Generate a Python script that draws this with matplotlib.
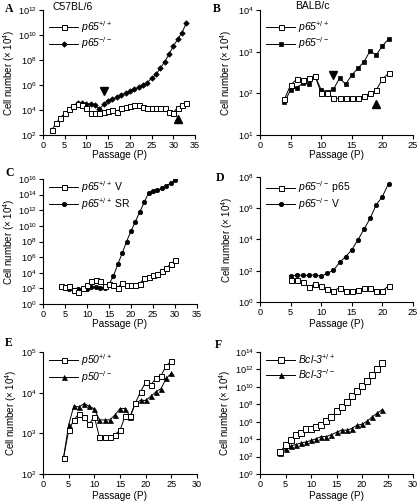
import numpy as np
import matplotlib
matplotlib.use('Agg')
import matplotlib.pyplot as plt
from matplotlib.ticker import FixedLocator, LogFormatterSciNotation, NullLocator

plt.rcParams['font.family'] = ['Liberation Sans', 'DejaVu Sans']
plt.rcParams['mathtext.fontset'] = 'custom'
plt.rcParams['mathtext.rm'] = 'Liberation Sans'
plt.rcParams['mathtext.it'] = 'Liberation Sans:italic'
plt.rcParams['font.size'] = 7

# values as log10(cell number)
# A  C57BL/6
a_x_wt = list(range(2, 34))
a_wt = [2.4, 2.93, 3.39, 3.73, 4.05, 4.32, 4.5, 4.4, 4.13, 3.8, 3.73, 3.73, 3.87, 3.92, 4.0, 3.87,
        4.13, 4.27, 4.35, 4.4, 4.4, 4.27, 4.2, 4.2, 4.2, 4.13, 4.13, 3.87, 3.8, 4.2, 4.4, 4.53]
a_x_ko = list(range(8, 34))
a_ko = [4.6, 4.56, 4.5, 4.45, 4.4, 4.08, 4.45, 4.72, 4.88, 5.04, 5.2, 5.33, 5.52, 5.68, 5.81,
        6.0, 6.2, 6.53, 6.85, 7.33, 7.85, 8.45, 9.1, 9.65, 10.2, 10.95]
a_arrow_x = [14, 31]
a_arrow_y = [5.5, 3.3]

# B  BALB/c
b_x = list(range(4, 22))
b_wt = [1.86, 2.2, 2.34, 2.32, 2.38, 2.42, 2.0, 2.02, 1.88, 1.88, 1.88, 1.88, 1.88, 1.94, 2.0,
        2.08, 2.34, 2.48]
b_ko = [1.79, 2.08, 2.14, 2.24, 2.22, 2.42, 2.08, 2.04, 2.1, 2.36, 2.22, 2.44, 2.6, 2.76, 3.02,
        2.92, 3.14, 3.3]
b_arrow_x = [12, 19]
b_arrow_y = [2.45, 1.75]

# C  p65+/+ V vs SR
c_x = list(range(4, 31))
c_v = [2.3, 2.2, 2.25, 1.8, 1.6, 2.0, 2.4, 2.9, 3.1, 2.9, 2.3, 2.5, 2.4, 2.1, 2.7, 2.4, 2.4,
       2.4, 2.6, 3.3, 3.5, 3.7, 3.9, 4.2, 4.6, 5.1, 5.6]
c_sr = [2.3, 2.1, 1.9, 1.85, 1.9, 1.9, 1.95, 2.15, 2.2, 2.1, 2.1, 2.5, 3.58, 5.08, 6.5, 8.0,
        9.35, 10.55, 11.8, 13.0, 14.26, 14.48, 14.6, 14.8, 15.1, 15.46, 15.85]

# D  p65-/- p65 vs V
d_x = list(range(5, 22))
d_p65 = [1.39, 1.39, 1.28, 0.96, 1.17, 1.03, 0.81, 0.71, 0.92, 0.71, 0.71, 0.79, 0.92, 0.92,
         0.71, 0.71, 1.03]
d_v = [1.64, 1.74, 1.7, 1.7, 1.74, 1.64, 1.85, 2.02, 2.53, 2.91, 3.34, 3.98, 4.66, 5.36, 6.23,
       6.75, 7.57]

# E  p50
e_x = list(range(4, 26))
e_wt = [2.4, 3.07, 3.33, 3.48, 3.41, 3.23, 3.41, 2.9, 2.9, 2.9, 2.97, 3.07, 3.43, 3.43, 3.75,
        4.02, 4.26, 4.19, 4.35, 4.42, 4.66, 4.77]
e_ko = [2.4, 3.21, 3.67, 3.65, 3.73, 3.67, 3.6, 3.33, 3.33, 3.33, 3.45, 3.61, 3.61, 3.4, 3.75,
        3.81, 3.81, 3.91, 4.02, 4.1, 4.35, 4.48]

# F  Bcl-3
f_x = list(range(4, 25))
f_wt = [2.56, 3.3, 3.93, 4.48, 4.7, 5.15, 5.22, 5.4, 5.6, 6.07, 6.55, 7.19, 7.67, 8.22, 8.93,
        9.52, 10.07, 10.63, 11.33, 12.0, 12.7]
f_ko = [2.37, 2.85, 3.22, 3.37, 3.56, 3.67, 3.85, 4.04, 4.3, 4.3, 4.52, 4.78, 5.04, 5.04, 5.22,
        5.6, 5.7, 6.07, 6.55, 7.0, 7.4]

W, H = 420, 503
fig = plt.figure(figsize=(W / 100, H / 100), dpi=100)


def box(l, t, r, b):
    return [l / W, 1 - b / H, (r - l) / W, (b - t) / H]


def setup(ax, pos, xmax, ylo, yhi, ystep, ylab_x, xlab_y):
    l, t, r, b = pos
    ax.set_yscale('log')
    ax.set_xlim(0, xmax)
    ax.set_ylim(10.0 ** ylo, 10.0 ** yhi)
    ax.set_xticks(range(0, xmax + 1, 5))
    ax.yaxis.set_major_locator(FixedLocator([10.0 ** e for e in range(ylo, yhi + 1, ystep)]))
    ax.yaxis.set_major_formatter(LogFormatterSciNotation())
    ax.yaxis.set_minor_locator(NullLocator())
    for s in ['top', 'right']:
        ax.spines[s].set_visible(False)
    for s in ['left', 'bottom']:
        ax.spines[s].set_linewidth(0.8)
    ax.tick_params(direction='out', length=3, width=0.8, labelsize=6.6, pad=1.5)
    ax.set_xlabel('Passage (P)', fontsize=7.2, va='center')
    ax.set_ylabel('Cell number (\u00d7 10$^4$)', fontsize=7, va='center')
    # label centres in figure pixels
    ax.yaxis.set_label_coords((ylab_x - l) / (r - l), 0.5)
    ax.xaxis.set_label_coords(0.5, -(xlab_y - b) / (b - t))


def tolin(v):
    return np.power(10.0, v)


lw = 0.7
open_kw = dict(color='black', lw=lw, mfc='white', mec='black', mew=0.7, zorder=3)
fill_kw = dict(color='black', lw=lw, mfc='black', mec='black', mew=0.5, zorder=2)
leg_kw = dict(frameon=False, handlelength=2.8, handletextpad=0.3,
              labelspacing=0.1, borderpad=0, borderaxespad=0,
              prop={'style': 'italic', 'size': 7.5})

# A
posA = (43, 10, 195, 135)
axA = fig.add_axes(box(*posA))
setup(axA, posA, 35, 2, 12, 2, 9, 155)
axA.plot(a_x_wt, tolin(a_wt), marker='s', ms=3.6, label='p65$^{+/+}$', **open_kw)
axA.plot(a_x_ko, tolin(a_ko), marker='D', ms=2.8, label='p65$^{-/-}$', **fill_kw)
axA.plot(a_arrow_x[:1], tolin(a_arrow_y[:1]), 'v', color='black', ms=5.5)
axA.plot(a_arrow_x[1:], tolin(a_arrow_y[1:]), '^', color='black', ms=5.5)
axA.legend(loc='upper left', bbox_to_anchor=(0.04, 0.93), **leg_kw)
axA.text(0.06, 1.02, 'C57BL/6', transform=axA.transAxes, va='center', ha='left', fontsize=7.5)

# B
posB = (260, 10, 413, 135)
axB = fig.add_axes(box(*posB))
setup(axB, posB, 25, 1, 4, 1, 226, 155)
axB.plot(b_x, tolin(b_wt), marker='s', ms=3.6, label='p65$^{+/+}$', **open_kw)
axB.plot(b_x, tolin(b_ko), marker='s', ms=3.2, label='p65$^{-/-}$', **fill_kw)
axB.plot(b_arrow_x[:1], tolin(b_arrow_y[:1]), 'v', color='black', ms=5.5)
axB.plot(b_arrow_x[1:], tolin(b_arrow_y[1:]), '^', color='black', ms=5.5)
axB.legend(loc='upper left', bbox_to_anchor=(0.04, 0.93), **leg_kw)
axB.text(0.23, 1.03, 'BALB/c', transform=axB.transAxes, va='center', ha='left', fontsize=7.5)

# C
posC = (43, 179, 197, 304)
axC = fig.add_axes(box(*posC))
setup(axC, posC, 35, 0, 16, 2, 9, 324)
axC.plot(c_x, tolin(c_sr), marker='o', ms=3.2, label='SR', **fill_kw)
axC.plot(c_x, tolin(c_v), marker='s', ms=3.6, label='V', **open_kw)
h, l = axC.get_legend_handles_labels()
axC.legend(h[::-1], ['p65$^{+/+}$ $\\mathrm{V}$', 'p65$^{+/+}$ $\\mathrm{SR}$'], loc='upper left',
           bbox_to_anchor=(0.04, 1.0), **leg_kw)

# D
posD = (260, 177, 413, 302)
axD = fig.add_axes(box(*posD))
setup(axD, posD, 25, 0, 8, 2, 227, 324)
axD.plot(d_x, tolin(d_v), marker='o', ms=3.2, label='V', **fill_kw)
axD.plot(d_x, tolin(d_p65), marker='s', ms=3.6, label='p65', **open_kw)
h, l = axD.get_legend_handles_labels()
axD.legend(h[::-1], ['p65$^{-/-}$ $\\mathrm{p65}$', 'p65$^{-/-}$ $\\mathrm{V}$'], loc='upper left',
           bbox_to_anchor=(0.04, 0.98), **leg_kw)

# E
posE = (43, 352, 197, 474)
axE = fig.add_axes(box(*posE))
setup(axE, posE, 30, 2, 5, 1, 11, 496)
axE.plot(e_x, tolin(e_ko), marker='^', ms=3.6, label='p50$^{-/-}$', **fill_kw)
axE.plot(e_x, tolin(e_wt), marker='s', ms=3.6, label='p50$^{+/+}$', **open_kw)
h, l = axE.get_legend_handles_labels()
axE.legend(h[::-1], l[::-1], loc='upper left', bbox_to_anchor=(0.04, 1.0), **leg_kw)

# F
posF = (260, 352, 413, 474)
axF = fig.add_axes(box(*posF))
setup(axF, posF, 30, 0, 14, 2, 225, 496)
axF.plot(f_x, tolin(f_ko), marker='^', ms=3.6, label='Bcl-3$^{-/-}$', **fill_kw)
axF.plot(f_x, tolin(f_wt), marker='s', ms=4.2, label='Bcl-3$^{+/+}$', **open_kw)
h, l = axF.get_legend_handles_labels()
axF.legend(h[::-1], l[::-1], loc='upper left', bbox_to_anchor=(0.04, 1.0), **leg_kw)

# panel letters
for lab, (px, py) in zip('ABCDEF', [(5, 9), (213, 9), (5, 173), (216, 178), (5, 343), (215, 345)]):
    fig.text(px / W, 1 - py / H, lab, fontsize=8.5, fontweight='bold', family='Liberation Serif',
             va='center', ha='left')

fig.savefig('out.png', dpi=100)
